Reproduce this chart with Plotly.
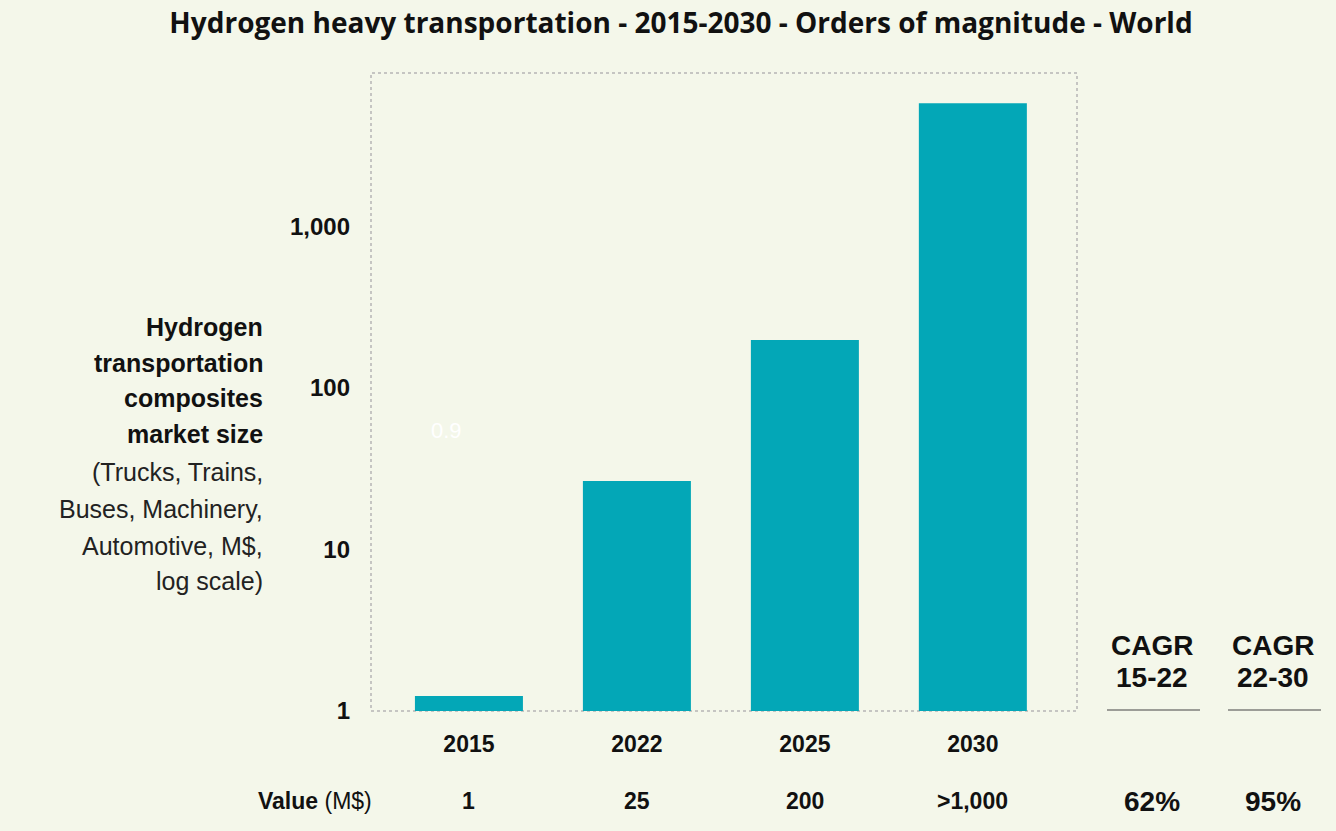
import plotly.graph_objects as go

# ---- data ----
years = ["2015", "2022", "2025", "2030"]
market_size = [1.24, 26.5, 198, 5800]          # M$
value_labels = ["1", "25", "200", ">1,000"]
y_tickvals = [1, 10, 100, 1000]
y_ticktext = ["1", "10", "100", "1,000"]
cagr_periods = ["15-22", "22-30"]
cagr_values = ["62%", "95%"]
ytitle_bold = ["Hydrogen", "transportation", "composites", "market size"]
ytitle_norm = ["(Trucks, Trains,", "Buses, Machinery,", "Automotive, M$,", "log scale)"]

BAR = "#03a7b7"
BG = "#f4f7ea"
FONT = "Liberation Sans, Arial, sans-serif"

# plot area in pixels
L, R, T, B = 371, 1077, 73, 711
W, H = 1336, 831
XR = [-0.583, 3.62]


def px(x):
    return (x - L) / (R - L)


def py(y):
    return (B - y) / (B - T)


def cat_paper(i):
    return (i - XR[0]) / (XR[1] - XR[0])


fig = go.Figure()
fig.add_trace(go.Bar(x=years, y=market_size, marker=dict(color=BAR, line=dict(width=0)),
                     hoverinfo="x+y", showlegend=False))

ann = []
# y-axis title lines
ys_bold = [327, 363, 398, 434]
ys_norm = [472, 509, 546, 581]
for t, yy in zip(ytitle_bold, ys_bold):
    ann.append(dict(text="<b>" + t + "</b>", x=px(265), y=py(yy), xref="paper", yref="paper",
                    xanchor="right", yanchor="middle", showarrow=False,
                    font=dict(size=25, color="#111111", family=FONT)))
for t, yy in zip(ytitle_norm, ys_norm):
    ann.append(dict(text=t, x=px(265), y=py(yy), xref="paper", yref="paper",
                    xanchor="right", yanchor="middle", showarrow=False,
                    font=dict(size=25, color="#222222", family=FONT)))

# value row
ann.append(dict(text="<b>Value</b> (M$)", x=px(374), y=py(801), xref="paper", yref="paper",
                xanchor="right", yanchor="middle", showarrow=False,
                font=dict(size=23, color="#111111", family=FONT)))
for i, v in enumerate(value_labels):
    ann.append(dict(text="<b>" + v + "</b>", x=cat_paper(i), y=py(801), xref="paper", yref="paper",
                    xanchor="center", yanchor="middle", showarrow=False,
                    font=dict(size=23, color="#111111", family=FONT)))

# CAGR blocks
cagr_x = [1152, 1273]
for cx, per, val in zip(cagr_x, cagr_periods, cagr_values):
    ann.append(dict(text="<b>CAGR</b>", x=px(cx), y=py(645), xref="paper", yref="paper",
                    xanchor="center", yanchor="middle", showarrow=False,
                    font=dict(size=28, color="#111111", family=FONT)))
    ann.append(dict(text="<b>" + per + "</b>", x=px(cx), y=py(677), xref="paper", yref="paper",
                    xanchor="center", yanchor="middle", showarrow=False,
                    font=dict(size=28, color="#111111", family=FONT)))
    ann.append(dict(text="<b>" + val + "</b>", x=px(cx), y=py(801), xref="paper", yref="paper",
                    xanchor="center", yanchor="middle", showarrow=False,
                    font=dict(size=28, color="#111111", family=FONT)))

# faint white label
ann.append(dict(text="0.9", x=px(446), y=py(430), xref="paper", yref="paper",
                xanchor="center", yanchor="middle", showarrow=False,
                font=dict(size=22, color="#ffffff", family=FONT)))

shapes = [
    dict(type="rect", xref="paper", yref="paper", x0=0, x1=1, y0=0, y1=1,
         line=dict(color="#b5b5b5", width=1.5, dash="dot"), layer="below"),
]
for x0, x1 in [(1107, 1200), (1228, 1321)]:
    shapes.append(dict(type="line", xref="paper", yref="paper", x0=px(x0), x1=px(x1),
                       y0=py(710), y1=py(710), line=dict(color="#444444", width=1.2)))

fig.update_layout(
    width=W, height=H,
    margin=dict(l=L, r=W - R, t=T, b=H - B, pad=0),
    paper_bgcolor=BG, plot_bgcolor=BG,
    bargap=0.357,
    title=dict(text="<b>Hydrogen heavy transportation - 2015-2030 - Orders of magnitude - World</b>",
               x=681 / W, xanchor="center", y=1 - 23 / H, yanchor="middle",
               font=dict(size=28, color="#111111", family="Open Sans, sans-serif")),
    xaxis=dict(type="category", range=XR, showgrid=False, zeroline=False,
               showline=False, ticks="", ticklabelstandoff=17,
               tickfont=dict(size=23, color="#111111", family=FONT),
               tickvals=years, ticktext=["<b>" + y + "</b>" for y in years]),
    yaxis=dict(type="log", range=[0, 3.95], showgrid=False, zeroline=False, showline=False,
               ticks="", tickvals=y_tickvals, ticktext=["<b>" + t + "</b>" for t in y_ticktext],
               ticklabelstandoff=20,
               tickfont=dict(size=24, color="#111111", family=FONT)),
    annotations=ann, shapes=shapes,
)

fig.write_html("out.html", config={"displayModeBar": False},
               post_script="document.body.style.margin='0';")
